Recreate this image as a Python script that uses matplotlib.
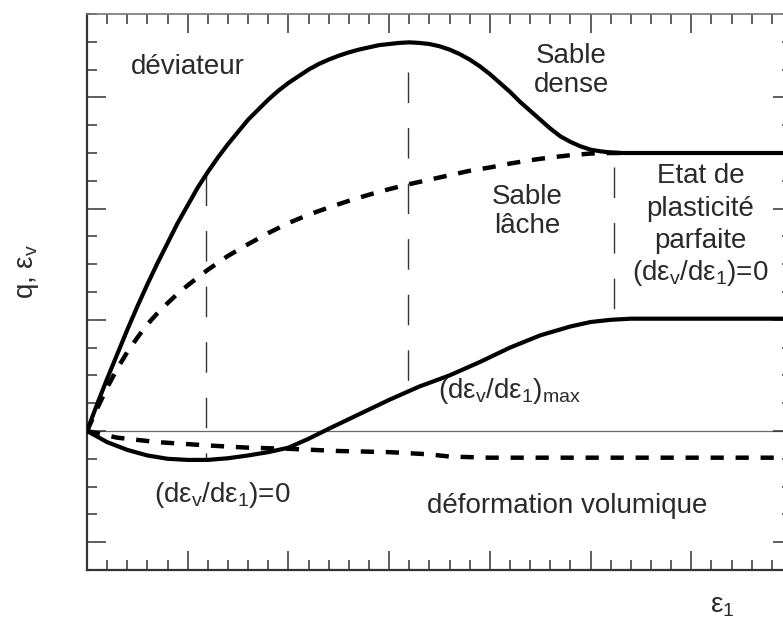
import matplotlib
matplotlib.use('Agg')
import matplotlib.pyplot as plt
from matplotlib.ticker import MultipleLocator

# ---- data ----
# deviator, dense sand (solid)
q_dense_x = [0, 0.1, 0.2, 0.3, 0.4, 0.5, 0.6, 0.7, 0.8, 0.9, 1.0, 1.1, 1.2, 1.3, 1.4,
             1.5, 1.6, 1.7, 1.8, 1.9, 2.0, 2.1, 2.2, 2.3, 2.4, 2.5, 2.6, 2.7, 2.8, 2.9,
             3.0, 3.1, 3.2, 3.3, 3.4, 3.5, 3.6, 3.7, 3.8, 3.9, 4.0, 4.1, 4.2, 4.3, 4.4,
             4.5, 4.6, 4.7, 4.8, 4.9, 5.0, 5.1, 5.2, 5.3, 7.05]
q_dense_y = [0, 0.24, 0.47, 0.69, 0.91, 1.12, 1.32, 1.51, 1.69, 1.87, 2.03, 2.19, 2.33,
             2.46, 2.58, 2.69, 2.8, 2.89, 2.98, 3.06, 3.13, 3.19, 3.25, 3.3, 3.34, 3.375,
             3.405, 3.43, 3.45, 3.47, 3.48, 3.49, 3.495, 3.49, 3.48, 3.46, 3.43, 3.39,
             3.34, 3.28, 3.21, 3.13, 3.05, 2.96, 2.88, 2.8, 2.72, 2.65, 2.6, 2.56, 2.53,
             2.515, 2.505, 2.5, 2.5]

# deviator, loose sand (dashed)
q_loose_x = [0, 0.1, 0.2, 0.3, 0.4, 0.5, 0.6, 0.7, 0.8, 0.9, 1.0, 1.2, 1.4, 1.6, 1.8,
             2.0, 2.2, 2.4, 2.6, 2.8, 3.0, 3.2, 3.4, 3.6, 3.8, 4.0, 4.2, 4.4, 4.6, 4.8,
             5.0, 5.2, 5.4]
q_loose_y = [0, 0.2, 0.39, 0.56, 0.71, 0.84, 0.96, 1.06, 1.15, 1.235, 1.31, 1.45, 1.575,
             1.68, 1.78, 1.87, 1.945, 2.01, 2.07, 2.125, 2.175, 2.22, 2.26, 2.3, 2.34,
             2.37, 2.405, 2.435, 2.46, 2.48, 2.495, 2.5, 2.5]

# volumetric strain, dense sand (solid)
ev_dense_x = [0, 0.2, 0.4, 0.6, 0.8, 1.0, 1.2, 1.4, 1.6, 1.8, 2.0, 2.2, 2.4, 2.7,
              3.0, 3.3, 3.6, 3.9, 4.2, 4.5, 4.8, 5.0, 5.2, 5.4, 7.05]
ev_dense_y = [0, -0.1, -0.17, -0.22, -0.25, -0.26, -0.26, -0.245, -0.22, -0.19, -0.15,
              -0.07, 0.02, 0.15, 0.28, 0.4, 0.5, 0.62, 0.75, 0.86, 0.94, 0.98, 1.0, 1.01, 1.01]

# volumetric strain, loose sand (dashed)
ev_loose_x = [0, 0.3, 0.7, 1.2, 1.6, 2.0, 2.5, 3.0, 3.4, 3.6, 4.0, 7.05]
ev_loose_y = [0, -0.06, -0.1, -0.13, -0.15, -0.16, -0.18, -0.19, -0.21, -0.23, -0.24, -0.24]

# thin vertical guides: x, y bottom, y top
guide_x = [1.18, 3.19, 5.23]
guide_y0 = [-0.26, 0.40, 1.07]
guide_y1 = [2.30, 3.23, 2.37]

TXT = '#2a2a2a'
plt.rcParams.update({
    'font.family': 'Liberation Sans',
    'mathtext.fontset': 'custom',
    'mathtext.rm': 'Liberation Sans',
    'mathtext.it': 'Liberation Sans',
    'mathtext.bf': 'Liberation Sans:bold',
    'lines.scale_dashes': False,
})

fig = plt.figure(figsize=(7.83, 6.26), dpi=100)
ax = fig.add_axes([87 / 783, 56 / 626, 705 / 783, 556 / 626])

ax.set_xlim(0, 7.0)
ax.set_ylim(-1.25, 3.75)

# zero line
ax.axhline(0, color='#6a6a6a', lw=0.9, zorder=1)

# curves
ax.plot(q_dense_x, q_dense_y, color='black', lw=3.0, solid_joinstyle='round', zorder=3)
ax.plot(q_loose_x, q_loose_y, color='black', lw=3.2, dashes=(9.5, 8.5), zorder=3)
ax.plot(ev_dense_x, ev_dense_y, color='black', lw=3.0, solid_joinstyle='round', zorder=3)
ax.plot(ev_loose_x, ev_loose_y, color='black', lw=3.2, dashes=(9.5, 8.5), zorder=3)

for gx, g0, g1 in zip(guide_x, guide_y0, guide_y1):
    ax.plot([gx, gx], [g1, g0], color='#333333', lw=1.0, dashes=(22, 18), zorder=2)

# ticks
ax.xaxis.set_major_locator(MultipleLocator(1))
ax.xaxis.set_minor_locator(MultipleLocator(0.2))
ax.yaxis.set_major_locator(MultipleLocator(1))
ax.yaxis.set_minor_locator(MultipleLocator(0.25))
ax.tick_params(which='both', direction='in', top=True, right=True,
               labelbottom=False, labelleft=False, color='#333333')
ax.tick_params(which='major', length=14, width=1.1)
ax.tick_params(which='minor', length=7.5, width=1.1)
for s in ax.spines.values():
    s.set_linewidth(1.6)
    s.set_color('#333333')
ax.spines['top'].set_color('#777777')
ax.spines['top'].set_linewidth(1.2)

# labels
fs = 20
ax.text(1.0, 3.27, 'déviateur', fontsize=fs, color=TXT, ha='center', va='center')
ax.text(4.81, 3.24, 'Sable\ndense', fontsize=fs, color=TXT, ha='center', va='center',
        linespacing=1.15)
ax.text(4.37, 1.97, 'Sable\nlâche', fontsize=fs, color=TXT, ha='center', va='center',
        linespacing=1.15)
ax.text(6.09, 2.29, 'Etat de', fontsize=fs, color=TXT, ha='center', va='center')
ax.text(6.09, 2.0, 'plasticité', fontsize=fs, color=TXT, ha='center', va='center')
ax.text(6.09, 1.71, 'parfaite', fontsize=fs, color=TXT, ha='center', va='center')
ax.text(6.09, 1.42, r'(d$\varepsilon_v$/d$\varepsilon_1$)=0', fontsize=fs, color=TXT,
        ha='center', va='center')
ax.text(3.49, 0.36, r'(d$\varepsilon_v$/d$\varepsilon_1$)$_{\mathrm{max}}$', fontsize=fs,
        color=TXT, ha='left', va='center')
ax.text(0.67, -0.58, r'(d$\varepsilon_v$/d$\varepsilon_1$)=0', fontsize=fs, color=TXT,
        ha='left', va='center')
ax.text(3.38, -0.67, 'déformation volumique', fontsize=fs, color=TXT, ha='left', va='center')

# axis titles
fig.text(28 / 783, 1 - 272 / 626, r'q, $\varepsilon_v$', fontsize=fs, color=TXT,
         rotation=90, ha='center', va='center')
fig.text(722 / 783, 1 - 606 / 626, r'$\varepsilon_1$', fontsize=fs, color=TXT,
         ha='center', va='center')

fig.savefig('out.png', dpi=100)
